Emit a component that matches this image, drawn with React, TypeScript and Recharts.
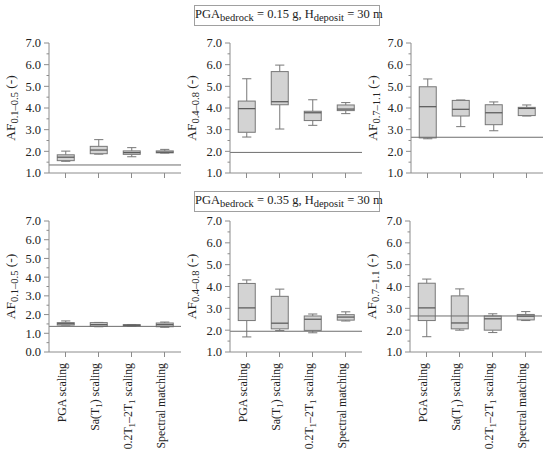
import React from 'react';
import { ComposedChart, Bar, XAxis, YAxis, ReferenceLine } from 'recharts';

// ---------- data ----------
const categories = ['PGA scaling', 'Sa(T1) scaling', '0.2T1–2T1 scaling', 'Spectral matching'];

// [min, q1, median, q3, max] per category
const af0105_015 = [
  [1.54, 1.57, 1.73, 1.84, 2.01],
  [1.87, 1.89, 2.06, 2.23, 2.54],
  [1.75, 1.86, 1.94, 2.02, 2.17],
  [1.92, 1.93, 1.96, 2.02, 2.09],
];
const af0408_015 = [
  [2.66, 2.88, 3.97, 4.32, 5.35],
  [3.03, 4.15, 4.29, 5.68, 5.98],
  [3.2, 3.42, 3.78, 3.85, 4.38],
  [3.74, 3.88, 3.95, 4.14, 4.25],
];
const af0711_015 = [
  [2.58, 2.62, 4.06, 4.98, 5.34],
  [3.14, 3.63, 3.94, 4.35, 4.37],
  [2.95, 3.23, 3.78, 4.15, 4.28],
  [3.63, 3.65, 3.98, 4.03, 4.14],
];
const af0105_035 = [
  [1.44, 1.44, 1.51, 1.57, 1.66],
  [1.35, 1.37, 1.46, 1.57, 1.58],
  [1.37, 1.39, 1.43, 1.46, 1.47],
  [1.32, 1.35, 1.46, 1.55, 1.6],
];
const af0408_035 = [
  [1.69, 2.44, 3.02, 4.14, 4.3],
  [1.98, 2.06, 2.32, 3.55, 3.88],
  [1.88, 1.99, 2.5, 2.65, 2.74],
  [2.42, 2.46, 2.6, 2.71, 2.84],
];
const af0711_035 = [
  [1.7, 2.44, 3.02, 4.15, 4.34],
  [2.0, 2.06, 2.33, 3.57, 3.89],
  [1.89, 2.0, 2.52, 2.65, 2.75],
  [2.44, 2.47, 2.64, 2.72, 2.85],
];

// site reference lines
const refLines = [1.37, 1.95, 2.65];

const yLabelSubs = ['0.1–0.5', '0.4–0.8', '0.7–1.1'];
const yTicksFrom1 = [1, 1.5, 2, 2.5, 3, 3.5, 4, 4.5, 5, 5.5, 6, 6.5, 7];
const yTicksFrom0 = [0, 0.5, 1, 1.5, 2, 2.5, 3, 3.5, 4, 4.5, 5, 5.5, 6, 6.5, 7];

const titleTop = { pga: '0.15', h: '30' };
const titleBottom = { pga: '0.35', h: '30' };

// ---------- style ----------
const FONT = '"Liberation Serif", "Times New Roman", serif';
const AXIS = '#8c8c8c';
const TXT = '#222';
const BOX_FILL = '#d3d3d3';
const BOX_STROKE = '#777';
const REF = '#6e6e6e';

const YW = 50;
const MT = 8;
const MR = 4;
const PW = 132;

const YTick = (props: any) => {
  const { x, y, payload } = props;
  const v = Number(payload.value);
  const major = Math.abs(v - Math.round(v)) < 1e-6;
  return (
    <g>
      <line x1={x - (major ? 5 : 2.5)} x2={x} y1={y} y2={y} stroke={AXIS} strokeWidth={1} />
      {major && (
        <text x={x - 8} y={y} dy="0.35em" textAnchor="end" fontSize={12.5} fill={TXT} fontFamily={FONT}>
          {v.toFixed(1)}
        </text>
      )}
    </g>
  );
};

const renderCatLabel = (label: string) => {
  const parts = label.split(/(T1)/).filter((p) => p.length > 0);
  const out: React.ReactNode[] = [];
  let shifted = false;
  parts.forEach((p, i) => {
    if (p === 'T1') {
      out.push(
        <tspan key={i + 'a'} dy={shifted ? -3 : 0}>T</tspan>
      );
      out.push(
        <tspan key={i + 'b'} dy={3} fontSize={9}>1</tspan>
      );
      shifted = true;
    } else {
      out.push(
        <tspan key={i} dy={shifted ? -3 : 0}>{p}</tspan>
      );
      shifted = false;
    }
  });
  return out;
};

const makeXTick = (showLabels: boolean) => (props: any) => {
  const { x, y, payload } = props;
  const ty = y + 11;
  return (
    <g>
      <line x1={x} x2={x} y1={y} y2={y + 5} stroke={AXIS} strokeWidth={1} />
      {showLabels && (
        <text
          x={x}
          y={ty}
          dy="0.35em"
          textAnchor="end"
          fontSize={11.8}
          fill={TXT}
          fontFamily={FONT}
          transform={`rotate(-90, ${x}, ${ty})`}
        >
          {renderCatLabel(String(payload.value))}
        </text>
      )}
    </g>
  );
};

const BoxShape = (props: any) => {
  const { x, y, width, height, payload } = props;
  if (!payload || !payload.stats) return null;
  const [mn, q1, md, q3, mx] = payload.stats as number[];
  const top = Math.min(y, y + height);
  const h = Math.abs(height);
  const k = h / (mx - mn);
  const py = (v: number) => top + (mx - v) * k;
  const cx = x + width / 2;
  const cap = width * 0.27;
  return (
    <g>
      <line x1={cx} x2={cx} y1={py(mx)} y2={py(q3)} stroke={BOX_STROKE} />
      <line x1={cx} x2={cx} y1={py(q1)} y2={py(mn)} stroke={BOX_STROKE} />
      <line x1={cx - cap} x2={cx + cap} y1={py(mx)} y2={py(mx)} stroke={BOX_STROKE} />
      <line x1={cx - cap} x2={cx + cap} y1={py(mn)} y2={py(mn)} stroke={BOX_STROKE} />
      <rect x={x} y={py(q3)} width={width} height={Math.max(0.5, py(q1) - py(q3))} fill={BOX_FILL} stroke={BOX_STROKE} />
      <line x1={x} x2={x + width} y1={py(md)} y2={py(md)} stroke="#555" strokeWidth={1.2} />
    </g>
  );
};

type PanelProps = {
  stats: number[][];
  plotLeft: number;
  plotTop: number;
  plotH: number;
  yMin: number;
  yTicks: number[];
  refY: number;
  sub: string;
  bottomRow: boolean;
};

const Panel = ({ stats, plotLeft, plotTop, plotH, yMin, yTicks, refY, sub, bottomRow }: PanelProps) => {
  const XH = bottomRow ? 100 : 10;
  const W = YW + PW + MR;
  const H = MT + plotH + XH;
  const rows = categories.map((c, i) => ({ cat: c, stats: stats[i] }));
  const yLabel = (lp: any) => {
    const vb = lp && lp.viewBox ? lp.viewBox : { x: 0, y: MT, width: YW, height: plotH };
    const cx = vb.x + vb.width - 39;
    const cy = vb.y + vb.height / 2;
    return (
      <text
        x={cx}
        y={cy}
        dy="0.35em"
        textAnchor="middle"
        fontSize={13.5}
        fill={TXT}
        fontFamily={FONT}
        transform={`rotate(-90, ${cx}, ${cy})`}
      >
        AF
        <tspan dy={3} fontSize={10.5}>{sub}</tspan>
        <tspan dy={-3}> (-)</tspan>
      </text>
    );
  };
  return (
    <div style={{ position: 'absolute', left: plotLeft - YW, top: plotTop - MT, width: W, height: H }}>
      <ComposedChart
        width={W}
        height={H}
        data={rows}
        margin={{ top: MT, right: MR, bottom: 0, left: 0 }}
        barCategoryGap="25%"
      >
        <XAxis
          dataKey="cat"
          type="category"
          height={XH}
          interval={0}
          tickLine={false}
          tickSize={0}
          tickMargin={0}
          stroke={AXIS}
          tick={makeXTick(bottomRow)}
        />
        <XAxis xAxisId="t" orientation="top" dataKey="cat" height={0} tick={false} tickLine={false} stroke={AXIS} />
        <YAxis
          type="number"
          domain={[yMin, 7]}
          ticks={yTicks}
          interval={0}
          allowDataOverflow
          width={YW}
          tickLine={false}
          tickSize={0}
          tickMargin={0}
          stroke={AXIS}
          tick={YTick}
          label={{ content: yLabel }}
        />
        <YAxis
          yAxisId="r"
          orientation="right"
          type="number"
          domain={[yMin, 7]}
          allowDataOverflow
          width={0}
          tick={false}
          tickLine={false}
          stroke={AXIS}
        />
        <ReferenceLine y={refY} stroke={REF} strokeWidth={1} />
        <Bar
          dataKey={(d: any) => [d.stats[0], d.stats[4]]}
          shape={BoxShape}
          isAnimationActive={false}
        />
      </ComposedChart>
    </div>
  );
};

const TitleBox = ({ top, pga, h }: { top: number; pga: string; h: string }) => (
  <div
    style={{
      position: 'absolute',
      left: 194,
      top,
      width: 186,
      height: 21,
      boxSizing: 'border-box',
      border: '1px solid #a0a0a0',
      fontFamily: FONT,
      fontSize: 12.5,
      color: TXT,
      lineHeight: '17px',
      textAlign: 'center',
      whiteSpace: 'nowrap',
    }}
  >
    PGA<span style={{ fontSize: 10.5, position: 'relative', top: 3 }}>bedrock</span> = {pga} g, H
    <span style={{ fontSize: 10.5, position: 'relative', top: 3 }}>deposit</span> = {h} m
  </div>
);

export default function App() {
  return (
    <div
      style={{
        position: 'absolute',
        left: 0,
        top: 0,
        width: 550,
        height: 454,
        background: '#fff',
        fontFamily: FONT,
        overflow: 'hidden',
      }}
    >
      <TitleBox top={5} pga={titleTop.pga} h={titleTop.h} />
      <TitleBox top={191} pga={titleBottom.pga} h={titleBottom.h} />

      <Panel stats={af0105_015} plotLeft={49} plotTop={43} plotH={130} yMin={1} yTicks={yTicksFrom1} refY={refLines[0]} sub={yLabelSubs[0]} bottomRow={false} />
      <Panel stats={af0408_015} plotLeft={230} plotTop={43} plotH={130} yMin={1} yTicks={yTicksFrom1} refY={refLines[1]} sub={yLabelSubs[1]} bottomRow={false} />
      <Panel stats={af0711_015} plotLeft={411} plotTop={43} plotH={130} yMin={1} yTicks={yTicksFrom1} refY={refLines[2]} sub={yLabelSubs[2]} bottomRow={false} />

      <Panel stats={af0105_035} plotLeft={49} plotTop={221} plotH={131} yMin={0} yTicks={yTicksFrom0} refY={refLines[0]} sub={yLabelSubs[0]} bottomRow={true} />
      <Panel stats={af0408_035} plotLeft={230} plotTop={221} plotH={131} yMin={1} yTicks={yTicksFrom1} refY={refLines[1]} sub={yLabelSubs[1]} bottomRow={true} />
      <Panel stats={af0711_035} plotLeft={410} plotTop={221} plotH={131} yMin={1} yTicks={yTicksFrom1} refY={refLines[2]} sub={yLabelSubs[2]} bottomRow={true} />
    </div>
  );
}
